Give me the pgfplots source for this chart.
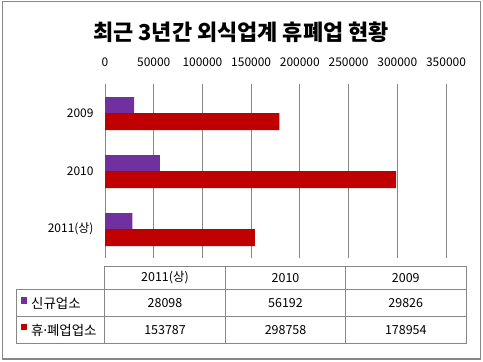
\documentclass[border=0pt]{standalone}
\usepackage{pgfplots}
\pgfplotsset{compat=1.18}
\usepackage{fontspec}
\setmainfont{Noto Sans CJK KR}
\definecolor{cpurple}{HTML}{7030A0}
\definecolor{cred}{HTML}{C00000}
\definecolor{cgrid}{HTML}{878787}
\begin{document}
\begin{tikzpicture}[x=1bp,y=1bp]
\path[use as bounding box] (0,0) rectangle (483,361);
\draw[cgrid, line width=1.2bp] (2.5,2) rectangle (480.5,359.5);
\node[font=\bfseries\fontsize{22}{26}\selectfont] at (241,329) {최근 3년간 외식업계 휴폐업 현황};
\coordinate (axSW) at (105bp,103bp);
\begin{axis}[
  at={(axSW)}, anchor=south west,
  scale only axis, width=341bp, height=174bp,
  xbar, bar width=16bp,
  xmin=0, xmax=350000, ymin=-0.5, ymax=2.5,
  ytick={0,1,2}, yticklabels={2011(상),2010,2009},
  xtick={0,50000,100000,150000,200000,250000,300000,350000},
  xticklabels={0,50000,100000,150000,200000,250000,300000,350000},
  xticklabel pos=top,
  scaled x ticks=false,
  xticklabel style={font=\fontsize{12}{14}\selectfont, yshift=14bp},
  yticklabel style={font=\fontsize{12}{14}\selectfont, xshift=-8bp},
  axis line style={draw=none},
  major tick length=0pt,
  xmajorgrids, grid style={cgrid, line width=1bp},
  clip=false,
]
\addplot[fill=cpurple, draw=none, bar shift=8bp] coordinates {(28098,0) (56192,1) (29826,2)};
\addplot[fill=cred, draw=none, bar shift=-8.5bp, bar width=17bp] coordinates {(153787,0) (298758,1) (178954,2)};
\end{axis}
% data table
\begin{scope}[cgrid, line width=1bp]
\draw (104.5,95) -- (466,95);
\draw (16,71.5) -- (466,71.5);
\draw (16,45) -- (466,45);
\draw (16,17.5) -- (466,17.5);
\draw (16,71.5) -- (16,17.5);
\draw (104.5,95) -- (104.5,17.5);
\draw (225.5,95) -- (225.5,17.5);
\draw (345.5,95) -- (345.5,17.5);
\draw (466,95) -- (466,17.5);
\end{scope}
\begin{scope}[every node/.style={font=\fontsize{12.5}{15}\selectfont, inner sep=0pt}]
\node at (165,83) {2011(상)};
\node at (285.5,83) {2010};
\node at (405.75,83) {2009};
\node at (165,58) {28098};
\node at (285.5,58) {56192};
\node at (405.75,58) {29826};
\node at (165,31) {153787};
\node at (285.5,31) {298758};
\node at (405.75,31) {178954};
\fill[cpurple] (20.5,57.5) rectangle (27,64);
\fill[cred] (20.5,31) rectangle (27,37.5);
\node[anchor=west, font=\fontsize{13.5}{16}\selectfont] at (31,58) {신규업소};
\node[anchor=west, font=\fontsize{13.5}{16}\selectfont] at (31,31) {휴\kern-2bp·\kern-2bp폐업업소};
\end{scope}
\end{tikzpicture}
\end{document}
